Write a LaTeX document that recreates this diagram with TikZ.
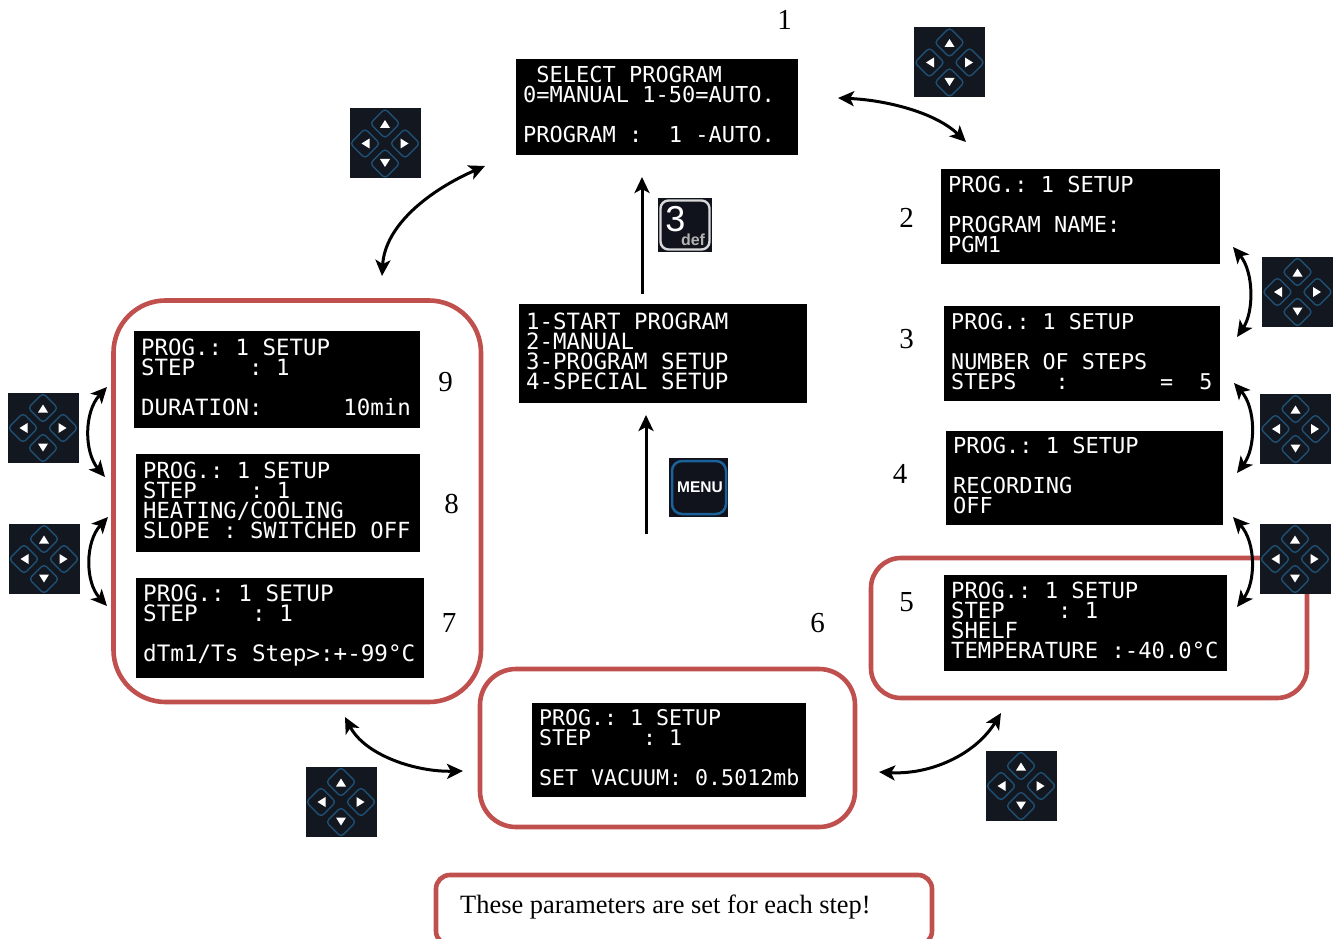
\documentclass[tikz,border=0pt]{standalone}
\usepackage{fontspec}
\setmainfont{Liberation Serif}
\newfontfamily\lcdfont{DejaVu Sans Mono}
\newfontfamily\keyfont{Liberation Sans}
\usetikzlibrary{arrows.meta}
\definecolor{redframe}{HTML}{C0504D}
\definecolor{padbg}{HTML}{131720}
\definecolor{padline}{HTML}{1F4F72}
\definecolor{menubg}{HTML}{10131C}
\definecolor{menublue}{HTML}{1A6299}
\tikzset{
  redbox/.style={draw=redframe,line width=4.6pt},
  lcdbox/.style={fill=black,inner sep=0pt,outer sep=0pt},
  lcdtext/.style={text=white,align=left,inner sep=0pt,anchor=west},
  numlabel/.style={font=\fontsize{29}{29}\selectfont,inner sep=0pt},
  arrowline/.style={line width=3pt,{Stealth[length=16pt,width=15pt,inset=4pt]}-{Stealth[length=16pt,width=15pt,inset=4pt]}},
  uparrow/.style={line width=3pt,-{Stealth[length=16pt,width=15pt,inset=4pt]}},
  padkey/.style={draw=padline,line width=1.4pt,rounded corners=3.5pt},
  padtri/.style={fill=white,draw=none}
}
\newcommand{\lcd}[7]{%
  \pgfmathsetmacro{\lw}{#4-#2}\pgfmathsetmacro{\lh}{#5-#3}%
  \node[lcdbox,minimum width=\lw pt,minimum height=\lh pt,anchor=north west] (#1) at (#2,#3) {};
  \node[lcdtext,font=\lcdfont\fontsize{#6}{20}\selectfont] (#1t) at ([xshift=7pt,yshift=2.4pt]#1.west) {#7};
}
\newcommand{\keypad}[3]{%
  \node[fill=padbg,minimum width=71pt,minimum height=70pt,inner sep=0pt] (#1) at (#2,#3) {};
  \begin{scope}[shift={(#2,#3)}]
    \foreach \kx/\ky in {0/-20,0/20,-20/0,20/0}
      \draw[padkey,shift={(\kx,\ky)},rotate=45] (-10.5,-10.5) rectangle (10.5,10.5);
    \fill[padtri] (-5,-15.5) -- (5,-15.5) -- (0,-23.5) -- cycle;
    \fill[padtri] (-5,15.5) -- (5,15.5) -- (0,23.5) -- cycle;
    \fill[padtri] (-15.5,-5) -- (-15.5,5) -- (-23.5,0) -- cycle;
    \fill[padtri] (15.5,-5) -- (15.5,5) -- (23.5,0) -- cycle;
  \end{scope}
}
\begin{document}
\begin{tikzpicture}[x=1pt,y=-1pt]
\useasboundingbox (0,0) rectangle (1342,939);

% red frames
\draw[redbox,rounded corners=52pt] (113.5,300.5) rectangle (481,702);
\draw[redbox,rounded corners=36pt] (480,669) rectangle (855,827);
\draw[redbox,rounded corners=30pt] (871,558) rectangle (1307,698);
\draw[redbox,rounded corners=14pt] (436,875) rectangle (932,945);
\node[anchor=west,inner sep=0pt,font=\fontsize{26.4}{26.4}\selectfont] (note) at (460,907.5) {These parameters are set for each step!};

% screens
\lcd{s1}{516}{59}{798}{155}{22}{\phantom{0}SELECT~PROGRAM\\0=MANUAL~1-50=AUTO.\\\mbox{}\\PROGRAM~:~~1~-AUTO.}
\lcd{s2}{941}{169}{1220}{264}{22}{PROG.:~1~SETUP\\\mbox{}\\PROGRAM~NAME:\\PGM1}
\lcd{s3}{944}{306}{1220}{401}{21.7}{PROG.:~1~SETUP\\\mbox{}\\NUMBER~OF~STEPS\\STEPS~~~:~~~~~~~=~~5}
\lcd{s4}{946}{431}{1223}{525}{22}{PROG.:~1~SETUP\\\mbox{}\\RECORDING\\OFF}
\lcd{s5}{944}{575}{1227}{671}{22.2}{PROG.:~1~SETUP\\STEP~~~~:~1\\SHELF\\TEMPERATURE~:-40.0°C}
\lcd{s6}{532}{703}{806}{797}{21.6}{PROG.:~1~SETUP\\STEP~~~~:~1\\\mbox{}\\SET~VACUUM:~0.5012mb}
\lcd{s7}{136}{578}{424}{678}{22.6}{PROG.:~1~SETUP\\STEP~~~~:~1\\\mbox{}\\dTm1/Ts~Step>:+-99°C}
\lcd{s8}{136}{454}{420}{552}{22.2}{PROG.:~1~SETUP\\STEP~~~~:~1\\HEATING/COOLING\\SLOPE~:~SWITCHED~OFF}
\lcd{s9}{134}{331}{420}{428}{22.4}{PROG.:~1~SETUP\\STEP~~~~:~1\\\mbox{}\\DURATION:~~~~~~10min}
\lcd{sm}{519}{304}{807}{403}{22.4}{1-START~PROGRAM\\2-MANUAL\\3-PROGRAM~SETUP\\4-SPECIAL~SETUP}

% numbers
\node[numlabel] (n1) at (784.5,20) {1};
\node[numlabel] (n2) at (906.5,218) {2};
\node[numlabel] (n3) at (906.5,339) {3};
\node[numlabel] (n4) at (900,474) {4};
\node[numlabel] (n5) at (906.5,602) {5};
\node[numlabel] (n6) at (817.5,623) {6};
\node[numlabel] (n7) at (449,623) {7};
\node[numlabel] (n8) at (451.5,504) {8};
\node[numlabel] (n9) at (445.5,382) {9};

% keypads
\keypad{k1}{949.5}{62.5}
\keypad{k2}{385}{143.5}
\keypad{k3}{1297.5}{292}
\keypad{k4}{1295.5}{429}
\keypad{k5}{1295}{559}
\keypad{k6}{43}{428}
\keypad{k7}{44}{559}
\keypad{k8}{341}{802}
\keypad{k9}{1021}{786}

% 3def key
\node[fill=menubg,minimum size=54pt,inner sep=0pt] (key3) at (685,225) {};
\draw[draw=white!85!black,line width=2.4pt,rounded corners=8pt] (660.5,200.5) rectangle (709.5,249.5);
\node[text=white,inner sep=0pt,font=\keyfont\fontsize{36}{36}\selectfont] (key3a) at (675.5,219) {3};
\node[text=white!70!black,inner sep=0pt,font=\keyfont\bfseries\fontsize{16}{16}\selectfont] (key3b) at (693,239.5) {def};

% menu key
\node[fill=menubg,minimum size=59pt,inner sep=0pt] (menu) at (698.5,487.5) {};
\draw[draw=menublue,line width=2.5pt,rounded corners=10pt] (672,461) rectangle (726,514);
\node[text=white,inner sep=0pt,font=\keyfont\bfseries\fontsize{15.5}{15.5}\selectfont] (menut) at (700,487.5) {MENU};

% free ends of connectors
\coordinate (a1s) at (838,98);   \coordinate (a1e) at (966,142);
\coordinate (a2s) at (485,166);  \coordinate (a2e) at (382,276);
\coordinate (a3s) at (1233,247); \coordinate (a3e) at (1237,337);
\coordinate (a4s) at (1234,383); \coordinate (a4e) at (1237,473);
\coordinate (a5s) at (1233,517); \coordinate (a5e) at (1237,607);
\coordinate (a6s) at (107,387);  \coordinate (a6e) at (105,477);
\coordinate (a7s) at (108,517);  \coordinate (a7e) at (107,606);
\coordinate (a8s) at (345,717);  \coordinate (a8e) at (463,771);
\coordinate (a9s) at (1001,713); \coordinate (a9e) at (879,772);
\coordinate (u1s) at (642,294);  \coordinate (u1e) at (642,177);
\coordinate (u2s) at (646,534);  \coordinate (u2e) at (646,415);

% connectors
\draw[arrowline] (a1s) .. controls (885,100) and (935,112) .. (a1e);
\draw[arrowline] (a2s) .. controls (430,190) and (385,225) .. (a2e);
\draw[arrowline] (a3s) .. controls (1254,272) and (1254,312) .. (a3e);
\draw[arrowline] (a4s) .. controls (1256,408) and (1256,448) .. (a4e);
\draw[arrowline] (a5s) .. controls (1256,542) and (1256,582) .. (a5e);
\draw[arrowline] (a6s) .. controls (84,412) and (84,452) .. (a6e);
\draw[arrowline] (a7s) .. controls (85,542) and (85,582) .. (a7e);
\draw[arrowline] (a8s) .. controls (365,755) and (415,772) .. (a8e);
\draw[arrowline] (a9s) .. controls (975,755) and (930,775) .. (a9e);
\draw[uparrow] (u1s) -- (u1e);
\draw[uparrow] (u2s) -- (u2e);
\end{tikzpicture}
\end{document}
